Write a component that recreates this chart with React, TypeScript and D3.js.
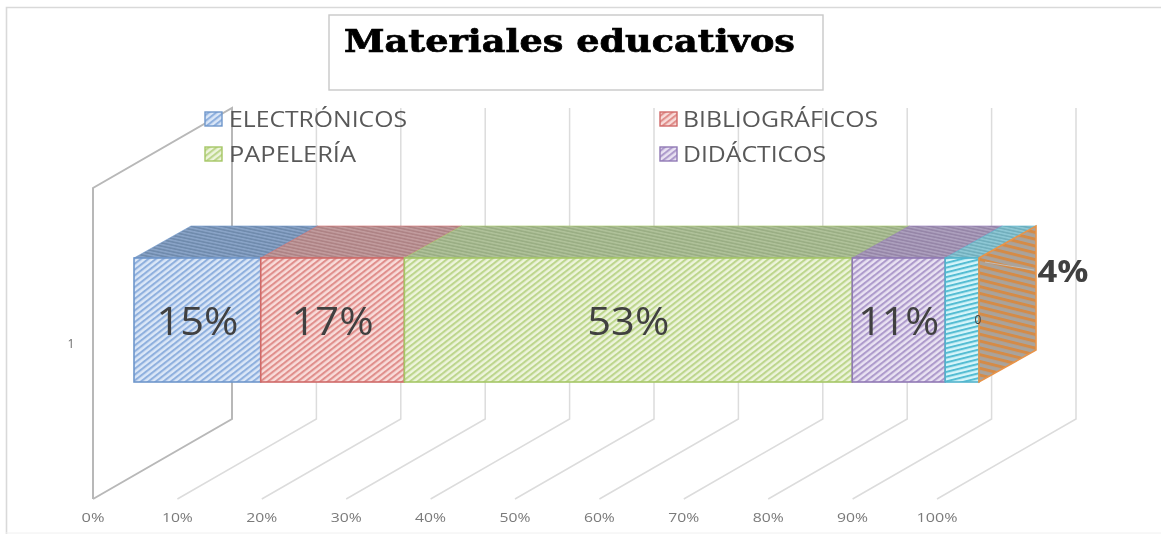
import React from "react";
import * as d3 from "d3";

const W = 1161, H = 534;
const seriesNames = ["ELECTRÓNICOS", "BIBLIOGRÁFICOS", "PAPELERÍA", "DIDÁCTICOS", "OTROS"];
const seriesValues = [15, 17, 53, 11, 4];
const segmentLabels = ["15%", "17%", "53%", "11%", "0"];
const tickValues = [0, 10, 20, 30, 40, 50, 60, 70, 80, 90, 100];
const edgeColors = ["#6f97cb", "#d06a68", "#a5c766", "#9079b5", "#53b3cc"];
const fillColors = ["#dbe7f7", "#f8dcda", "#edf4dc", "#e9e2f2", "#d6f5fa"];
const hatchColors = ["#8fb0de", "#e08f8c", "#bdd68d", "#ae9bcc", "#55bdd3"];
const topColors = ["#6f8bad", "#ae8385", "#9aae84", "#9686a8", "#72afbd"];
const topHatch = ["#8aa4c8", "#c29c9e", "#b0c29a", "#ada0be", "#8ec8d5"];

const grid = d3.scaleLinear().domain([0, 100]).range([93, 937]);
const bar = d3.scaleLinear().domain([0, 100]).range([134, 979]);
const gridBottom = 499, gridBackBottom = 419, gridTop = 108, gridDx = 139;
const barTop = 258, barBottom = 382, depthX = 57, depthY = 32;

const pts = (p: number[][]) => p.map((q) => q.join(",")).join(" ");

function Hatch({ id, fill, stroke, size = 4.5, w = 2, angle = 45 }: any) {
  return (
    <pattern id={id} patternUnits="userSpaceOnUse" width={size} height={size} patternTransform={`rotate(${angle})`}>
      <rect width={size} height={size} fill={fill} />
      <rect x={0} y={0} width={size} height={w} fill={stroke} />
    </pattern>
  );
}

export default function App() {
  const stack = d3.stack<number[]>().keys(seriesValues.map((_, i) => String(i)) as any).value((_d: any, k: any) => seriesValues[+k])([[0]] as any);
  const segs = stack.map((s, i) => ({ i, x0: bar(s[0][0]), x1: bar(s[0][1]) }));
  const last = segs[segs.length - 1];
  const sans = "'Open Sans', 'DejaVu Sans', sans-serif";
  const legend = [
    { i: 0, x: 205, y: 119, tx: 229, tw: 178 },
    { i: 1, x: 660, y: 119, tx: 683, tw: 195 },
    { i: 2, x: 205, y: 154, tx: 229, tw: 127 },
    { i: 3, x: 660, y: 154, tx: 683, tw: 143 },
  ];
  return (
    <svg width={W} height={H} viewBox={`0 0 ${W} ${H}`} style={{ position: "absolute", left: 0, top: 0, background: "#fff" }}>
      <defs>
        {fillColors.map((c, i) => (
          <Hatch key={i} id={`front${i}`} fill={c} stroke={hatchColors[i]} size={4.6} w={2.1} angle={i === 4 ? -14 : -38} />
        ))}
        {topColors.map((c, i) => (
          <Hatch key={i} id={`top${i}`} fill={c} stroke={topHatch[i]} size={3.2} w={1.5} angle={12} />
        ))}
        <Hatch id="side" fill="#a9a39c" stroke="#d58b46" size={6.6} w={3} angle={14} />
        <filter id="soft" x="-2%" y="-2%" width="104%" height="104%">
          <feGaussianBlur stdDeviation="0.5" />
        </filter>
      </defs>
      <g filter="url(#soft)">
        <path d={`M6.5,534V7.5H${W}`} fill="none" stroke="#d9d9d9" strokeWidth={1.6} />
        <line x1={6} x2={W} y1={533} y2={533} stroke="#f0f0f0" />

        {tickValues.map((t) => {
          const x = grid(t);
          const wall = t === 0;
          return (
            <g key={t}>
              <polyline
                points={pts(wall
                  ? [[x, gridBottom], [x + gridDx, gridBackBottom], [x + gridDx, gridTop], [x, gridTop + 80], [x, gridBottom]]
                  : [[x, gridBottom], [x + gridDx, gridBackBottom], [x + gridDx, gridTop]])}
                fill="none"
                stroke={wall ? "#b8b8b8" : "#dcdcdc"}
                strokeWidth={wall ? 2 : 1.5}
              />
              <text x={x} y={522} textAnchor="middle" fontFamily={sans} fontSize={13} fill="#7a7a7a"
                textLength={t === 100 ? 41 : t === 0 ? 23 : 31} lengthAdjust="spacingAndGlyphs">{`${t}%`}</text>
            </g>
          );
        })}
        <text x={71} y={348} textAnchor="middle" fontFamily={sans} fontSize={12} fill="#6b6b6b">1</text>

        {segs.map((s) => (
          <g key={s.i}>
            <polygon
              points={pts([[s.x0, barTop], [s.x1, barTop], [s.x1 + depthX, barTop - depthY], [s.x0 + depthX, barTop - depthY]])}
              fill={`url(#top${s.i})`} stroke={edgeColors[s.i]} strokeWidth={0.6}
            />
            <rect x={s.x0} y={barTop} width={s.x1 - s.x0} height={barBottom - barTop}
              fill={`url(#front${s.i})`} stroke={edgeColors[s.i]} strokeWidth={1.6} />
          </g>
        ))}
        <polygon
          points={pts([[last.x1, barTop], [last.x1 + depthX, barTop - depthY], [last.x1 + depthX, barBottom - depthY], [last.x1, barBottom]])}
          fill="url(#side)" stroke="#e8944a" strokeWidth={1.6}
        />

        {segs.map((s) => segmentLabels[s.i] === "0" ? (
          <text key={s.i} x={978} y={324} textAnchor="middle" fontFamily={sans} fontSize={12} fill="#404040">0</text>
        ) : (
          <text key={s.i} x={(s.x0 + s.x1) / 2} y={335} textAnchor="middle" fontFamily={sans} fontSize={39} fill="#404040"
            textLength={s.i === 3 ? 81 : 82} lengthAdjust="spacingAndGlyphs">{segmentLabels[s.i]}</text>
        ))}
        <line x1={985} y1={262} x2={1034} y2={270} stroke="#bdbdbd" strokeWidth={1} />
        <text x={1063} y={282} textAnchor="middle" fontFamily={sans} fontWeight={700} fontSize={31} fill="#404040"
          textLength={51} lengthAdjust="spacingAndGlyphs">{`${seriesValues[4]}%`}</text>

        <rect x={329} y={15} width={494} height={75} fill="#fff" stroke="#c8c8c8" strokeWidth={1.4} />
        <text x={344} y={52} fontFamily="'DejaVu Serif', serif" fontWeight={700} fontSize={31} fill="#000" stroke="#000" strokeWidth={0.7}
          textLength={451} lengthAdjust="spacingAndGlyphs">Materiales educativos</text>

        {legend.map((l) => (
          <g key={l.i}>
            <rect x={l.x} y={l.y - 7} width={17} height={14} fill={`url(#front${l.i})`} stroke={edgeColors[l.i]} strokeWidth={1.4} />
            <text x={l.tx} y={l.y + 8} fontFamily={sans} fontSize={22} fill="#595959"
              textLength={l.tw} lengthAdjust="spacingAndGlyphs">{seriesNames[l.i]}</text>
          </g>
        ))}
      </g>
    </svg>
  );
}
